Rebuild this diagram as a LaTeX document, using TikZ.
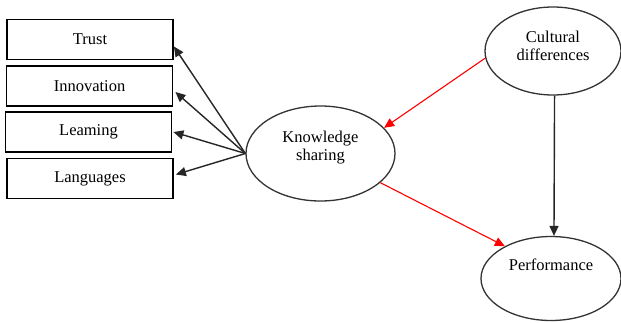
\documentclass[tikz,border=0pt]{standalone}
\usepackage{fontspec}
\setmainfont{Liberation Serif}
\usetikzlibrary{shapes.geometric,arrows.meta,calc}
\begin{document}
\begin{tikzpicture}[x=1pt,y=1pt,
  txt/.style={font=\fontsize{16.5}{18}\selectfont,align=center},
  box/.style={txt,draw=black,line width=1.8pt,minimum width=166pt,minimum height=40pt,inner sep=0pt},
  oval/.style={draw=black!80,line width=1.3pt,ellipse,inner sep=0pt},
  arr/.style={draw=black!85,line width=1.4pt,-{Triangle[length=10pt,width=9pt]}},
  redarr/.style={draw=red,line width=1.1pt,-{Triangle[length=10pt,width=9pt]}},
  ]
\useasboundingbox[fill=white] (0,0) rectangle (621,-322);
\node[box] (trust) at (90,-39.5) {Trust};
\node[box] (innov) at (89.5,-86) {Innovation};
\node[box] (learn) at (88.5,-132) {Leaming};
\node[box] (lang) at (90,-178.5) {Languages};
\node[oval,minimum width=149pt,minimum height=95pt] (ks) at (320.5,-153.5) {};
\node[txt] (kst) at (320.5,-148) {Knowledge\\[0pt]sharing};
\node[oval,minimum width=136pt,minimum height=88pt] (cd) at (553,-51) {};
\node[txt] (cdt) at (553,-46) {Cultural\\[0pt]differences};
\node[oval,minimum width=140pt,minimum height=84pt] (perf) at (551,-278.5) {};
\node[txt] (perft) at (551,-265) {Performance};
\draw[arr] (ks.west) -- ([yshift=-7pt]trust.east);
\draw[arr] (ks.west) -- ([yshift=-6pt,xshift=2pt]innov.east);
\draw[arr] (ks.west) -- ([xshift=1pt]learn.east);
\draw[arr] (ks.west) -- ([yshift=4pt,xshift=2pt]lang.east);
\draw[redarr] (cd.186) -- (ks.22);
\draw[redarr] (ks.-26) -- (perf.145);
\draw[arr] (cd.-88) -- (perf.86);
\end{tikzpicture}
\end{document}
